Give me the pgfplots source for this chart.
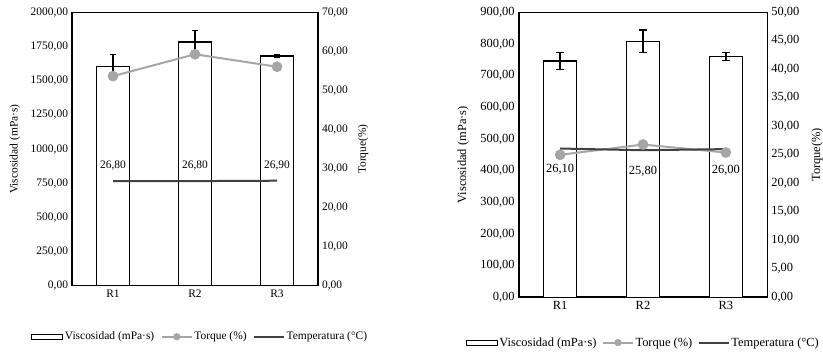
\documentclass[border=0pt]{standalone}
\usepackage{fontspec}
\setmainfont{Liberation Serif}
\usepackage{pgfplots}
\pgfplotsset{compat=1.18}
\definecolor{torq}{HTML}{A6A6A6}
\definecolor{temp}{HTML}{404040}
\pgfplotsset{
  common/.style={scale only axis, xmin=-0.5, xmax=2.5, ymin=0,
    major tick length=0pt, axis line style={line width=1.6bp},
    xtick={0,1,2}, xticklabels={R1,R2,R3},
    yticklabel style={/pgf/number format/fixed, /pgf/number format/fixed zerofill,
      /pgf/number format/precision=2, /pgf/number format/use comma,
      /pgf/number format/1000 sep={}, /pgf/number format/assume math mode=true},
    clip=false},
  barleg/.style={legend image code/.code={\draw[draw=black,fill=white,line width=1.2bp] (0bp,-2.5bp) rectangle (31bp,2.5bp);}},
  lineleg/.style={legend image code/.code={\draw[##1, mark repeat=2, mark phase=2, mark size=2.6bp] plot coordinates {(0bp,0bp) (15bp,0bp) (30bp,0bp)};}},
}
\newcommand{\fl}{\fontsize{11.5}{13}\selectfont}
\newcommand{\fr}{\fontsize{12.5}{14}\selectfont}
\begin{document}
\fontsize{11.5}{13}\selectfont
\begin{tikzpicture}
\useasboundingbox (0,0) rectangle (823bp,352bp);
% ---------- Left chart ----------
\begin{axis}[common, at={(72bp,66.3bp)}, anchor=south west, width=246bp, height=273.2bp,
  font=\fl, ticklabel style={font=\fl}, label style={font=\fl},
  ymax=2000, ytick={0,250,...,2000}, ytick pos=left,
  ylabel={Viscosidad (mPa·s)}, ylabel style={at={(axis description cs:-0.232,0.5)}, anchor=center}]
\addplot[ybar, bar width=0.4, fill=white, draw=black, line width=1.3bp,
  error bars/.cd, y dir=both, y explicit,
  error bar style={line width=1.3bp, black},
  error mark options={rotate=90, mark size=2.8bp, line width=1.3bp, black}]
  coordinates {(0,1607) +- (0,88) (1,1783) +- (0,85) (2,1682) +- (0,8)};
\end{axis}
\begin{axis}[common, at={(72bp,66.3bp)}, anchor=south west, width=246bp, height=273.2bp,
  font=\fl, ticklabel style={font=\fl}, label style={font=\fl},
  ymax=70, ytick={0,10,...,70}, axis y line*=right, axis x line=none,
  ylabel={Torque(\%)}, ylabel style={at={(axis description cs:1.183,0.5)}, anchor=center},
  legend style={at={(axis description cs:0.52,-0.187)}, anchor=center, draw=none, fill=none,
    font=\fl, legend columns=3, /tikz/every even column/.append style={column sep=5bp},
    nodes={inner sep=1.5bp}}]
\addlegendimage{barleg}
\addlegendentry{Viscosidad (mPa·s)}
\addplot[torq, line width=2bp, mark=*, mark size=4.3bp, mark options={fill=torq, draw=torq}, lineleg]
  coordinates {(0,53.7) (1,59.3) (2,56.1)};
\addlegendentry{Torque (\%)}
\addplot[temp, line width=2bp, lineleg, nodes near coords, point meta=explicit symbolic,
  every node near coord/.append style={anchor=south, yshift=6bp, black, font=\fl}]
  table[meta=lab] {
x y lab
0 26.8 26,80
1 26.8 26,80
2 26.9 26,90
};
\addlegendentry{Temperatura (°C)}
\end{axis}
% ---------- Right chart ----------
\begin{axis}[common, at={(518.7bp,54.7bp)}, anchor=south west, width=248.6bp, height=285bp,
  font=\fr, ticklabel style={font=\fr}, label style={font=\fr},
  ymax=900, ytick={0,100,...,900}, ytick pos=left,
  ylabel={Viscosidad (mPa·s)}, ylabel style={at={(axis description cs:-0.224,0.5)}, anchor=center}]
\addplot[ybar, bar width=0.4, fill=white, draw=black, line width=1.3bp,
  error bars/.cd, y dir=both, y explicit,
  error bar style={line width=1.3bp, black},
  error mark options={rotate=90, mark size=4.3bp, line width=1.3bp, black}]
  coordinates {(0,746) +- (0,27) (1,808) +- (0,36) (2,760) +- (0,12)};
\end{axis}
\begin{axis}[common, at={(518.7bp,54.7bp)}, anchor=south west, width=248.6bp, height=285bp,
  font=\fr, ticklabel style={font=\fr}, label style={font=\fr},
  ymax=50, ytick={0,5,...,50}, axis y line*=right, axis x line=none,
  ylabel={Torque(\%)}, ylabel style={at={(axis description cs:1.2,0.5)}, anchor=center},
  legend style={at={(axis description cs:0.5,-0.159)}, anchor=center, draw=none, fill=none,
    font=\fr, legend columns=3, /tikz/every even column/.append style={column sep=4bp},
    nodes={inner sep=1.5bp}}]
\addlegendimage{barleg}
\addlegendentry{Viscosidad (mPa·s)}
\addplot[torq, line width=2bp, mark=*, mark size=4.3bp, mark options={fill=torq, draw=torq}, lineleg]
  coordinates {(0,25.0) (1,26.8) (2,25.4)};
\addlegendentry{Torque (\%)}
\addplot[temp, line width=2bp, lineleg, nodes near coords, point meta=explicit symbolic,
  every node near coord/.append style={anchor=north, yshift=-11bp, black, font=\fr}]
  table[meta=lab] {
x y lab
0 26.1 26,10
1 25.8 25,80
2 26.0 26,00
};
\addlegendentry{Temperatura (°C)}
\end{axis}
\end{tikzpicture}
\end{document}
